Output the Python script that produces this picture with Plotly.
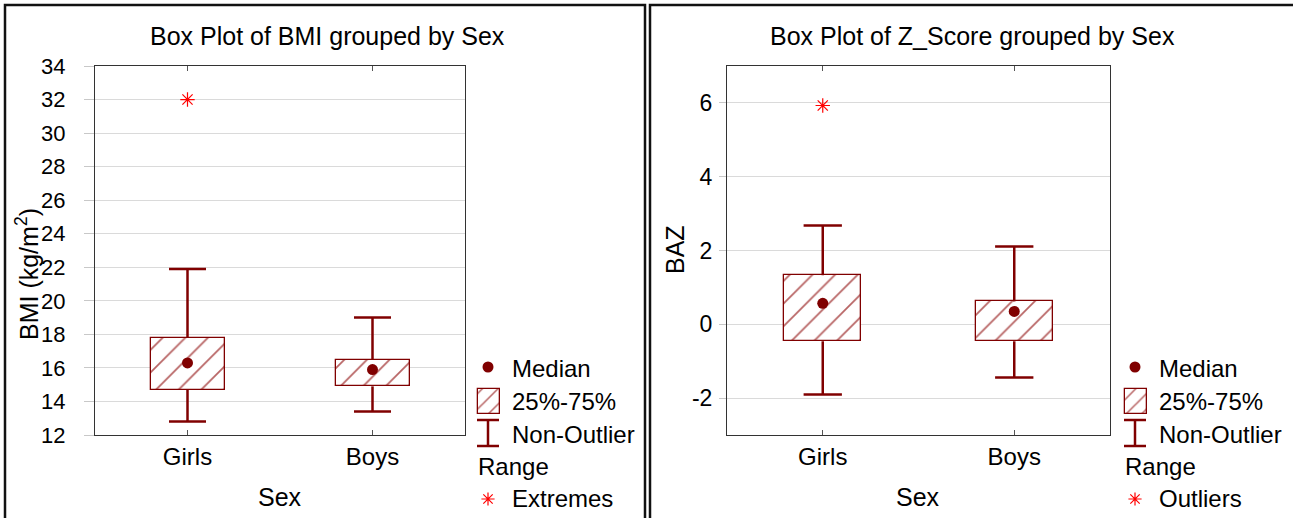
import plotly.graph_objects as go

# ---------------- data ----------------
categories = ["Girls", "Boys"]

bmi_lower = [12.8, 13.4]
bmi_q1 = [14.7, 14.9]
bmi_median = [16.3, 15.9]
bmi_q3 = [17.8, 16.5]
bmi_upper = [21.9, 19.0]
bmi_extreme_cat = ["Girls"]
bmi_extreme_val = [32.0]

baz_lower = [-1.9, -1.44]
baz_q1 = [-0.46, -0.46]
baz_median = [0.57, 0.35]
baz_q3 = [1.33, 0.62]
baz_upper = [2.68, 2.11]
baz_outlier_cat = ["Girls"]
baz_outlier_val = [5.93]

bmi_ticks = list(range(12, 35, 2))
baz_ticks = [-2, 0, 2, 4, 6]

# ---------------- style ----------------
W, H = 1293, 518
DARK = "#800000"
HATCH = "#b86464"
RED = "#ff0000"
FONT = "Liberation Sans, Arial, sans-serif"
BOX_W = 0.4
CAP = 0.1

fig = go.Figure()


def add_panel(xa, ya, lo, q1, med, q3, hi, out_cat, out_val):
    xs = list(range(len(categories)))
    fig.add_trace(go.Bar(
        x=xs, y=[b - a for a, b in zip(q1, q3)], base=q1, width=BOX_W,
        xaxis=xa, yaxis=ya, showlegend=False,
        marker=dict(color="white", line=dict(color=DARK, width=1.3),
                    pattern=dict(shape="/", fgcolor=HATCH, bgcolor="white",
                                 size=16, solidity=0.11)),
    ))
    wx, wy = [], []
    for i in xs:
        wx += [i, i, None, i, i, None, i - CAP, i + CAP, None, i - CAP, i + CAP, None]
        wy += [q3[i], hi[i], None, q1[i], lo[i], None, hi[i], hi[i], None, lo[i], lo[i], None]
    fig.add_trace(go.Scatter(x=wx, y=wy, mode="lines", xaxis=xa, yaxis=ya,
                             line=dict(color=DARK, width=2.5), showlegend=False))
    fig.add_trace(go.Scatter(x=xs, y=med, mode="markers", xaxis=xa, yaxis=ya,
                             marker=dict(color=DARK, size=11), showlegend=False))
    fig.add_trace(go.Scatter(x=[categories.index(c) for c in out_cat], y=out_val,
                             mode="markers", xaxis=xa, yaxis=ya, showlegend=False,
                             marker=dict(symbol="asterisk-open", size=12, color=RED,
                                         line=dict(color=RED, width=1.2))))


add_panel("x", "y", bmi_lower, bmi_q1, bmi_median, bmi_q3, bmi_upper,
          bmi_extreme_cat, bmi_extreme_val)
add_panel("x2", "y2", baz_lower, baz_q1, baz_median, baz_q3, baz_upper,
          baz_outlier_cat, baz_outlier_val)

# ---------------- legends (drawn on a pixel-space helper axis) ----------------
legend_sets = [
    (478, ["Median", "25%-75%", "Non-Outlier", "Range", "Extremes"]),
    (1125, ["Median", "25%-75%", "Non-Outlier", "Range", "Outliers"]),
]
annotations = []
for lx, labels in legend_sets:
    cx = lx + 10
    fig.add_trace(go.Scatter(x=[cx], y=[367], mode="markers", xaxis="x3", yaxis="y3",
                             marker=dict(color=DARK, size=11), showlegend=False))
    fig.add_trace(go.Bar(x=[lx + 11], y=[25], base=[389], width=22, xaxis="x3", yaxis="y3",
                         showlegend=False,
                         marker=dict(color="white", line=dict(color=DARK, width=1.3),
                                     pattern=dict(shape="/", fgcolor=HATCH, bgcolor="white",
                                                  size=11, solidity=0.14))))
    fig.add_trace(go.Scatter(x=[cx, cx, None, cx - 11, cx + 11, None, cx - 11, cx + 11],
                             y=[420, 446, None, 420, 420, None, 446, 446],
                             mode="lines", xaxis="x3", yaxis="y3", showlegend=False,
                             line=dict(color=DARK, width=2.5)))
    fig.add_trace(go.Scatter(x=[cx], y=[499], mode="markers", xaxis="x3", yaxis="y3",
                             showlegend=False,
                             marker=dict(symbol="asterisk-open", size=11, color=RED,
                                         line=dict(color=RED, width=1.2))))
    tx = lx + 32
    for (x0, y0, t) in [(tx, 368, labels[0]), (tx, 401, labels[1]), (tx, 434, labels[2]),
                        (lx - 2, 466, labels[3]), (tx, 498, labels[4])]:
        annotations.append(dict(x=x0, y=y0, xref="x3", yref="y3", text=t, showarrow=False,
                                xanchor="left", yanchor="middle",
                                font=dict(size=24, color="black", family=FONT)))

# titles and axis titles
for x0, y0, t, ang, fs in [
    (327, 36, "Box Plot of BMI grouped by Sex", 0, 25),
    (972, 36, "Box Plot of Z_Score grouped by Sex", 0, 25),
    (280, 497, "Sex", 0, 25),
    (918, 497, "Sex", 0, 25),
    (27, 274, "BMI (kg/m<sup>2</sup>)", -90, 25),
    (675, 250, "BAZ", -90, 25),
]:
    annotations.append(dict(x=x0, y=y0, xref="x3", yref="y3", text=t, showarrow=False,
                            xanchor="center", yanchor="middle", textangle=ang,
                            font=dict(size=fs, color="black", family=FONT)))

shapes = [
    dict(type="rect", xref="x3", yref="y3", x0=5, x1=645, y0=5, y1=540,
         line=dict(color="#111", width=2.5)),
    dict(type="rect", xref="x3", yref="y3", x0=650, x1=1300, y0=5, y1=540,
         line=dict(color="#111", width=2.5)),
]


def px_x(a, b):
    return [a / W, b / W]


def px_y(top, bottom):
    return [(H - bottom) / H, (H - top) / H]


xcommon = dict(range=[-0.5, 1.5], tickvals=[0, 1], ticktext=categories, ticks="inside",
               ticklen=5, tickcolor="#555", showline=True, linecolor="#333", linewidth=1,
               mirror="ticks", showgrid=False, zeroline=False, automargin=False,
               tickfont=dict(size=24, color="black", family=FONT))
ycommon = dict(showgrid=True, gridcolor="#dadada", gridwidth=1, showline=True,
               linecolor="#333", linewidth=1, mirror=True, zeroline=False,
               ticks="outside", tickcolor="#c8c8c8", automargin=False)

fig.update_layout(
    template="none",
    width=W, height=H, autosize=False,
    margin=dict(l=0, r=0, t=0, b=0, pad=0, autoexpand=False),
    paper_bgcolor="white", plot_bgcolor="rgba(0,0,0,0)",
    showlegend=False, bargap=0,
    font=dict(family=FONT, color="black"),
    xaxis=dict(domain=px_x(95, 465), anchor="y", **xcommon),
    yaxis=dict(domain=px_y(66, 435), anchor="x", range=[12, 34], tickvals=bmi_ticks,
               ticktext=[str(v) for v in bmi_ticks],
               tickfont=dict(size=22, color="black", family=FONT),
               ticklen=10, ticklabelstandoff=14, **ycommon),
    xaxis2=dict(domain=px_x(727, 1110), anchor="y2", **xcommon),
    yaxis2=dict(domain=px_y(66, 435), anchor="x2", range=[-3, 7], tickvals=baz_ticks,
                ticktext=[str(v) for v in baz_ticks],
                tickfont=dict(size=23, color="black", family=FONT),
                ticklen=7, ticklabelstandoff=2, **ycommon),
    xaxis3=dict(domain=[0, 1], range=[0, W], visible=False, fixedrange=True, anchor="y3",
                automargin=False),
    yaxis3=dict(domain=[0, 1], range=[H, 0], visible=False, fixedrange=True, anchor="x3",
                automargin=False),
    annotations=annotations,
    shapes=shapes,
)

fig.write_html("out.html", config={"displayModeBar": False},
               post_script="document.body.style.margin='0';document.body.style.overflow='hidden';")
